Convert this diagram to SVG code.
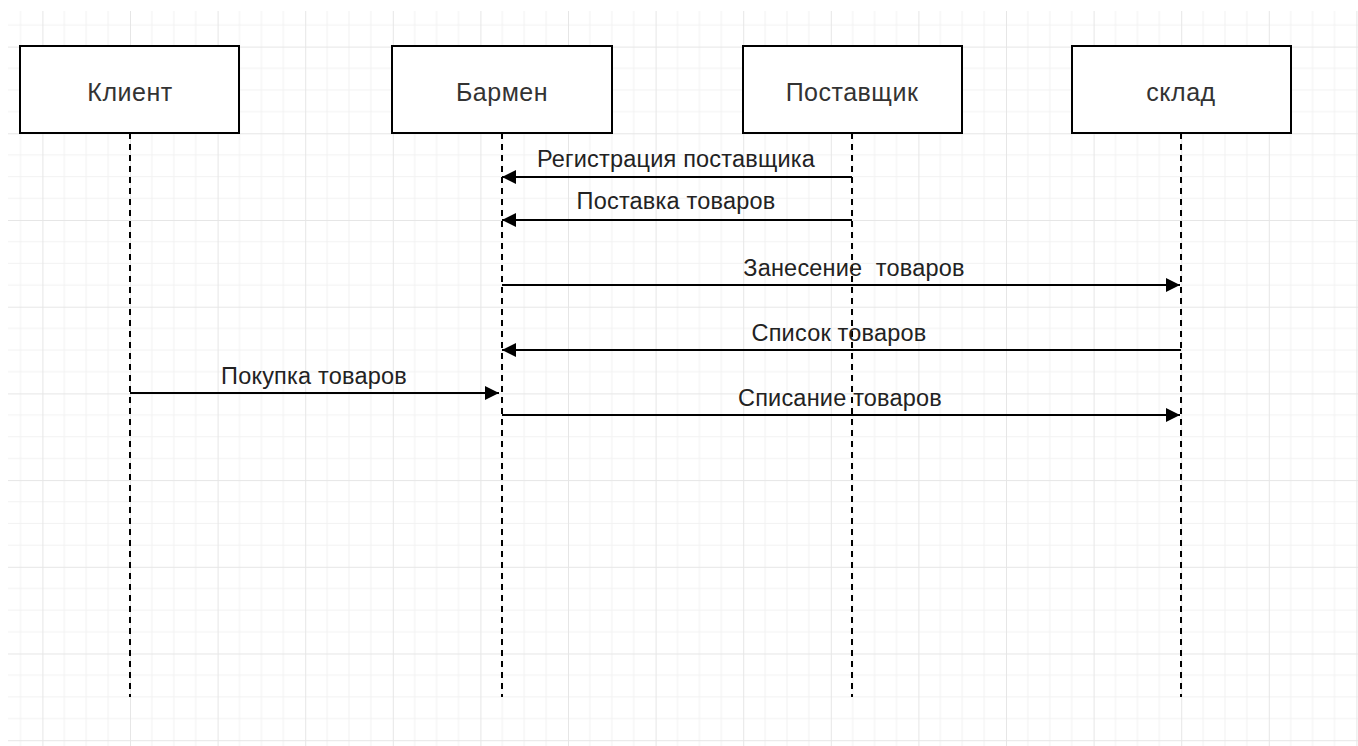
<svg xmlns="http://www.w3.org/2000/svg" width="1358" height="746" viewBox="0 0 1358 746">
<style>
.box{fill:#ffffff;stroke:#000000;stroke-width:2}
.ntext{font-family:"Liberation Sans",Arial,sans-serif;font-size:25px;letter-spacing:0.5px;fill:#333333;text-anchor:middle}
.life{stroke:#000000;stroke-width:2;stroke-dasharray:6 5;fill:none}
.msg{stroke:#000000;stroke-width:2;fill:none}
.ltext{font-family:"Liberation Sans",Arial,sans-serif;font-size:23.5px;letter-spacing:0.2px;fill:#222222;text-anchor:middle}
</style>
<defs>
<pattern id="grid" patternUnits="userSpaceOnUse" x="42.4" y="46.6" width="87.6" height="86.7">
<g stroke="#f2f2f2" stroke-width="1">
<line x1="21.9" y1="0" x2="21.9" y2="86.7"/>
<line x1="43.8" y1="0" x2="43.8" y2="86.7"/>
<line x1="65.7" y1="0" x2="65.7" y2="86.7"/>
<line x1="0" y1="21.7" x2="87.6" y2="21.7"/>
<line x1="0" y1="43.35" x2="87.6" y2="43.35"/>
<line x1="0" y1="65" x2="87.6" y2="65"/>
</g>
<g stroke="#e6e6e6" stroke-width="1">
<line x1="0.5" y1="0" x2="0.5" y2="86.7"/>
<line x1="0" y1="0.5" x2="87.6" y2="0.5"/>
</g>
</pattern>
<marker id="arr" viewBox="0 0 10 10" refX="10" refY="5" markerUnits="userSpaceOnUse" markerWidth="18" markerHeight="14" orient="auto">
<path d="M0,0 L10,5 L0,10 Z" fill="#000000"/>
</marker>
</defs>
<rect x="0" y="0" width="1358" height="746" fill="#ffffff"/>
<rect x="8" y="11" width="1350" height="735" fill="url(#grid)"/>
<g id="lifelines">
<line class="life" x1="130" y1="133" x2="130" y2="697"/>
<line class="life" x1="502" y1="133" x2="502" y2="697"/>
<line class="life" x1="852" y1="133" x2="852" y2="697"/>
<line class="life" x1="1181" y1="133" x2="1181" y2="697"/>
</g>
<g id="node-klient">
<rect class="box" x="20" y="46" width="219" height="87"/>
<text class="ntext" x="130" y="101">Клиент</text>
</g>
<g id="node-barmen">
<rect class="box" x="392" y="46" width="220" height="87"/>
<text class="ntext" x="502" y="101">Бармен</text>
</g>
<g id="node-postavshik">
<rect class="box" x="743" y="46" width="219" height="87"/>
<text class="ntext" x="852" y="101">Поставщик</text>
</g>
<g id="node-sklad">
<rect class="box" x="1072" y="46" width="219" height="87"/>
<text class="ntext" x="1181" y="101">склад</text>
</g>
<g id="connectors">
<line class="msg" x1="852" y1="177" x2="502" y2="177" marker-end="url(#arr)"/>
<text class="ltext" x="676" y="167">Регистрация поставщика</text>
<line class="msg" x1="852" y1="220" x2="502" y2="220" marker-end="url(#arr)"/>
<text class="ltext" x="676" y="209">Поставка товаров</text>
<line class="msg" x1="502" y1="285" x2="1180" y2="285" marker-end="url(#arr)"/>
<text class="ltext" x="854" y="276" xml:space="preserve">Занесение  товаров</text>
<line class="msg" x1="1181" y1="350" x2="502" y2="350" marker-end="url(#arr)"/>
<text class="ltext" x="839" y="341">Список товаров</text>
<line class="msg" x1="130" y1="393" x2="499" y2="393" marker-end="url(#arr)"/>
<text class="ltext" x="314" y="384">Покупка товаров</text>
<line class="msg" x1="502" y1="415" x2="1180" y2="415" marker-end="url(#arr)"/>
<text class="ltext" x="840" y="406">Списание товаров</text>
</g>
</svg>
